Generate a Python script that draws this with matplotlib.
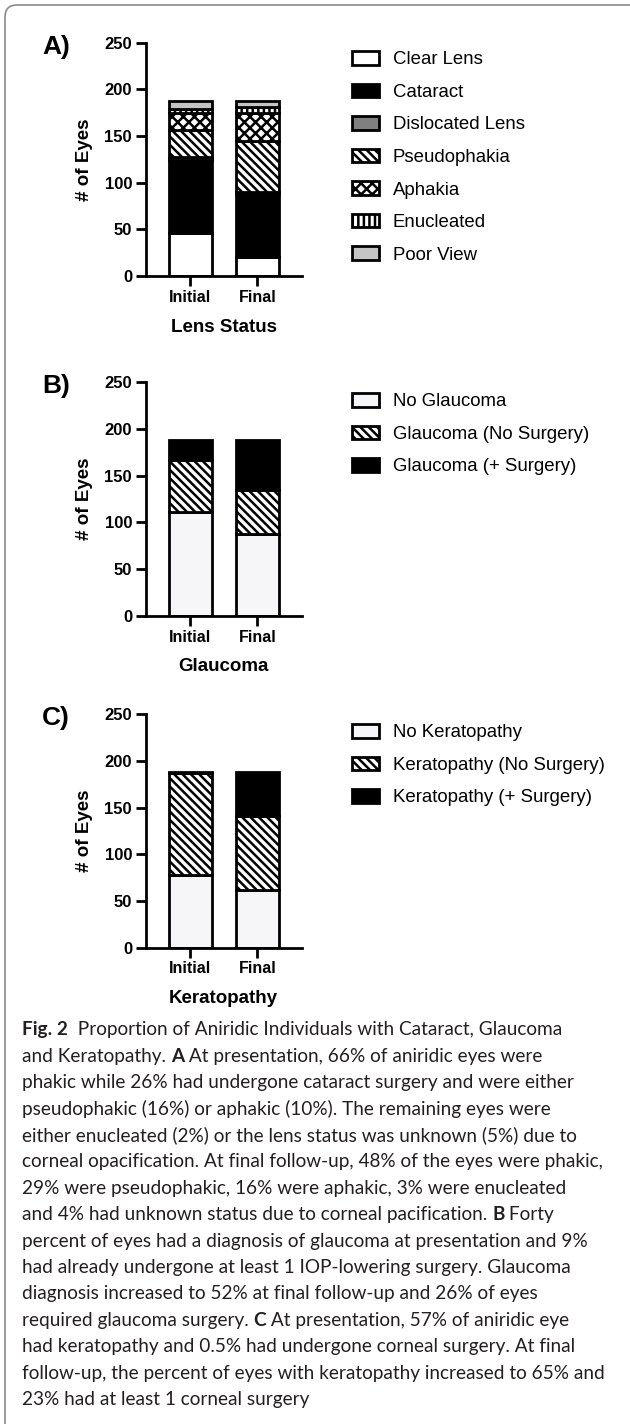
import matplotlib
matplotlib.use("Agg")
import matplotlib.pyplot as plt
from matplotlib.patches import FancyBboxPatch
from matplotlib.transforms import IdentityTransform

plt.rcParams['font.family'] = ['Liberation Sans', 'DejaVu Sans']
plt.rcParams['hatch.linewidth'] = 1.8

W, H = 630, 1424

# ---- data (number of eyes) ----
groups = ["Initial", "Final"]

lens_labels = ["Clear Lens", "Cataract", "Dislocated Lens", "Pseudophakia",
               "Aphakia", "Enucleated", "Poor View"]
lens_initial = [46, 78, 3, 29, 19, 4, 9]
lens_final = [20, 68, 2, 55, 30, 6, 7]

glaucoma_labels = ["No Glaucoma", "Glaucoma (No Surgery)", "Glaucoma (+ Surgery)"]
glaucoma_initial = [111, 56, 21]
glaucoma_final = [88, 47, 53]

kerato_labels = ["No Keratopathy", "Keratopathy (No Surgery)", "Keratopathy (+ Surgery)"]
kerato_initial = [78, 109, 1]
kerato_final = [62, 79, 47]

# fill, hatch per category
lens_styles = [("white", ""), ("black", ""), ("#808080", ""), ("white", "\\\\\\\\"),
               ("white", "xxx"), ("white", "|||"), ("#c4c4c4", "")]
three_styles = [("#f6f6f8", ""), ("white", "\\\\\\\\"), ("black", "")]


def px(x, y):
    return x / W, 1 - y / H


fig = plt.figure(figsize=(W / 100, H / 100), dpi=100)


def panel(zero_y, letter, xlabel, labels, initial, final, styles, legend_y):
    left, bottom = px(146, zero_y)
    ax = fig.add_axes([left, bottom, 155.5 / W, 233.3 / H])
    bottoms = [0, 0]
    handles = []
    for i, lab in enumerate(labels):
        vals = [initial[i], final[i]]
        fc, hatch = styles[i]
        bars = ax.bar([0, 1], vals, width=0.64, bottom=bottoms, color=fc,
                      edgecolor="black", linewidth=2.0, hatch=hatch, label=lab)
        handles.append(bars[0])
        bottoms = [bottoms[0] + vals[0], bottoms[1] + vals[1]]
    ax.set_xlim(-0.66, 1.66)
    ax.set_ylim(0, 250)
    ax.set_yticks([0, 50, 100, 150, 200, 250])
    ax.set_xticks([0, 1])
    ax.set_xticklabels(groups, fontsize=11.5, fontweight="bold")
    for t in ax.get_yticklabels():
        t.set_fontsize(12)
        t.set_fontweight("bold")
    ax.tick_params(length=7, width=2, pad=3)
    for s in ["top", "right"]:
        ax.spines[s].set_visible(False)
    for s in ["left", "bottom"]:
        ax.spines[s].set_linewidth(2)
    ax.set_ylabel("# of Eyes", fontsize=13.5, fontweight="bold")
    ax.yaxis.set_label_coords(-0.34, 0.5)
    ax.set_xlabel(xlabel, fontsize=13.5, fontweight="bold", labelpad=10)
    lx, ly = px(70, zero_y - 233.3 + 4)
    fig.text(lx, ly, letter, fontsize=19, fontweight="bold", ha="right", va="center")
    bx, by = px(352, legend_y)
    fig.legend(handles, labels, loc="upper left", bbox_to_anchor=(bx, by),
               frameon=False, fontsize=13.4, handlelength=1.45, handleheight=0.75,
               handletextpad=0.75, labelspacing=0.82, borderpad=0, borderaxespad=0)
    return ax


panel(276, "A)", "Lens Status", lens_labels, lens_initial, lens_final, lens_styles, 51)
panel(615.7, "B)", "Glaucoma", glaucoma_labels, glaucoma_initial, glaucoma_final,
      three_styles, 393)
panel(947.6, "C)", "Keratopathy", kerato_labels, kerato_initial, kerato_final,
      three_styles, 724)

# ---- caption ----
caption = [
    [("Fig. 2", True), ("  Proportion of Aniridic Individuals with Cataract, Glaucoma", False)],
    [("and Keratopathy. ", False), ("A", True), (" At presentation, 66% of aniridic eyes were", False)],
    [("phakic while 26% had undergone cataract surgery and were either", False)],
    [("pseudophakic (16%) or aphakic (10%). The remaining eyes were", False)],
    [("either enucleated (2%) or the lens status was unknown (5%) due to", False)],
    [("corneal opacification. At final follow-up, 48% of the eyes were phakic,", False)],
    [("29% were pseudophakic, 16% were aphakic, 3% were enucleated", False)],
    [("and 4% had unknown status due to corneal pacification. ", False), ("B", True), (" Forty", False)],
    [("percent of eyes had a diagnosis of glaucoma at presentation and 9%", False)],
    [("had already undergone at least 1 IOP-lowering surgery. Glaucoma", False)],
    [("diagnosis increased to 52% at final follow-up and 26% of eyes", False)],
    [("required glaucoma surgery. ", False), ("C", True), (" At presentation, 57% of aniridic eye", False)],
    [("had keratopathy and 0.5% had undergone corneal surgery. At final", False)],
    [("follow-up, the percent of eyes with keratopathy increased to 65% and", False)],
    [("23% had at least 1 corneal surgery", False)],
]

cap_font = ["Lato", "DejaVu Sans"]
renderer = fig.canvas.get_renderer()


def text_width(s, size, bold):
    t = fig.text(0, 0, s + "|", fontsize=size, family=cap_font,
                 fontweight="bold" if bold else "normal")
    w1 = t.get_window_extent(renderer).width
    t.set_text("|")
    w2 = t.get_window_extent(renderer).width
    t.remove()
    return w1 - w2


# size the caption so the widest reference line spans the same width
ref_w = text_width(caption[5][0][0], 10, False)
cap_size = 10 * 582 / ref_w

for i, line in enumerate(caption):
    x = 22
    y = 1030 + i * 26.4
    for s, bold in line:
        fx, fy = px(x, y)
        fig.text(fx, fy, s, fontsize=cap_size, family=cap_font, va="center",
                 fontweight="bold" if bold else "normal", color="#231f20")
        x += text_width(s, cap_size, bold)

box = FancyBboxPatch((5, -12), 650, 1431, boxstyle="round,pad=0,rounding_size=12",
                     transform=IdentityTransform(), facecolor="none",
                     edgecolor="#8a8a8a", linewidth=1.2)
fig.add_artist(box)

fig.savefig("out.png", dpi=100)
